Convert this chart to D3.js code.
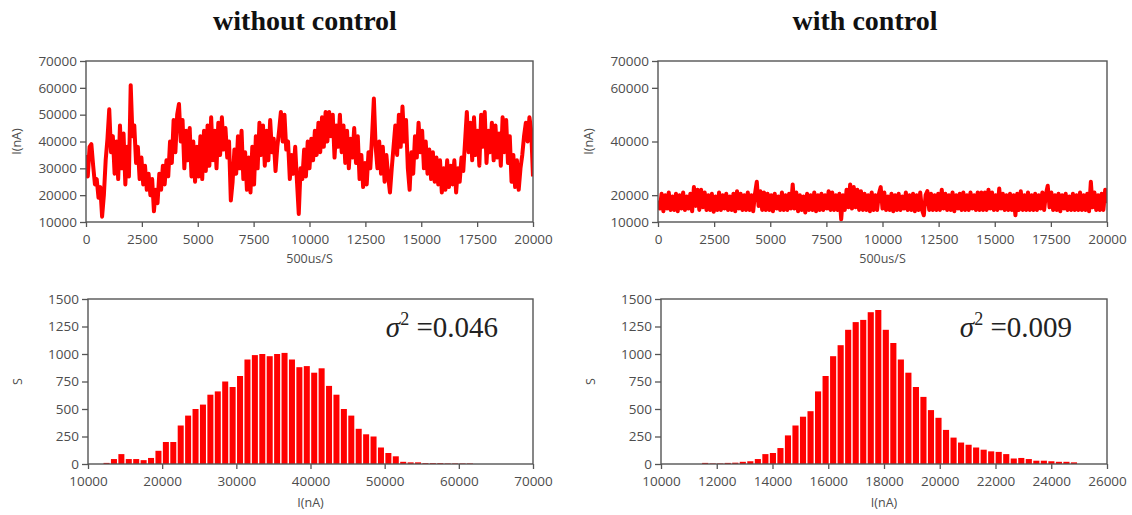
<!DOCTYPE html>
<html><head><meta charset="utf-8">
<script src="https://cdn.jsdelivr.net/npm/d3@7"></script>
<style>body{margin:0;background:#fff}</style>
</head><body><svg id="c" width="1132" height="515"></svg>
<script>
// ---------- data ----------
const panelTitles = ["without control", "with control"];
const sigmaLabels = ["0.046", "0.009"];
const timeStep = 80; // samples are plotted every 80 units on the 500us/S axis

const seriesWithout = [
35000,27000,38000,39000,31000,24000,26000,19000,23000,12000,
20000,33000,41000,52000,36000,42000,28000,40000,26000,46000,
30000,43000,24000,38000,27000,61000,42000,46000,32000,38000,
26000,34000,24000,31000,22000,28000,20000,26000,14000,22000,
17000,28000,22000,31000,24000,33000,27000,40000,32000,48000,
36000,50000,54000,40000,48000,30000,44000,33000,45000,27000,
40000,25000,38000,27000,42000,26000,44000,29000,46000,31000,
49000,33000,44000,30000,47000,35000,49000,37000,45000,34000,
40000,18000,25000,37000,28000,42000,30000,44000,26000,36000,
22000,34000,21000,38000,24000,42000,30000,47000,35000,46000,
31000,44000,33000,48000,36000,41000,29000,38000,44000,51000,
40000,50000,37000,40000,26000,35000,28000,38000,25000,13000,
30000,26000,37000,27000,40000,30000,41000,33000,44000,35000,
47000,36000,49000,38000,51000,40000,51000,42000,50000,34000,
46000,38000,50000,36000,46000,32000,44000,30000,41000,34000,
45000,32000,42000,26000,35000,23000,32000,24000,36000,30000,
42000,56000,38000,30000,40000,28000,38000,25000,35000,27000,
21000,30000,38000,46000,35000,50000,38000,53000,40000,48000,
30000,22000,36000,28000,42000,34000,47000,36000,44000,30000,
40000,28000,37000,26000,36000,25000,34000,24000,33000,21000,
30000,22000,33000,23000,31000,24000,33000,21000,30000,25000,
34000,29000,40000,51000,36000,47000,33000,49000,35000,44000,
31000,50000,38000,51000,32000,44000,36000,47000,33000,46000,
34000,43000,31000,49000,36000,48000,32000,42000,25000,35000,
23000,33000,22000,30000,35000,42000,47000,40000,49000,44000,
27000];

const seriesWith = [
18000,15000,20500,14000,20000,15000,21000,14500,19500,14500,
20500,14000,20000,15000,21000,14500,19500,15000,20500,14000,
23000,16000,22000,14500,22000,15500,21000,14500,20000,14500,
20500,13800,19500,14500,21000,14500,20000,15000,20500,14500,
19500,14500,20500,14000,21500,15000,20500,14500,20000,14500,
21000,14500,20000,14000,20500,25000,16000,21500,14500,21000,
14500,20500,14500,20000,14000,20500,15000,19500,14500,21000,
14500,20000,14500,20500,15000,24000,15000,21000,14000,20000,
14500,19500,13500,20500,14500,20000,14500,21000,14000,20000,
14500,20500,14500,20000,15000,21500,14500,21000,14500,20000,
14500,20500,11000,20000,14500,22000,15500,24000,15000,23000,
15500,22000,14500,21500,14500,20500,14500,20000,14000,21000,
14500,20000,14500,20500,23000,15000,21000,14500,19500,14500,
20500,14000,20000,14500,20500,14500,19500,15000,21000,14500,
20000,14500,20500,14000,20000,14500,21000,14500,12500,20000,
21500,14500,20500,14500,20000,14500,20500,14500,22000,15000,
20500,14500,20000,14500,21000,14000,20000,15000,20500,14500,
21000,14500,20000,14500,21000,15000,20000,14500,21000,14500,
21000,14500,21000,14500,22000,15000,21000,14500,20000,14500,
22500,15000,20500,14500,20000,14500,20500,14500,20000,12500,
20500,14500,21500,14500,20000,14500,21000,14500,20000,14500,
20500,14500,20000,15000,21000,14500,20500,23500,15500,21000,
14500,20000,14500,20500,14000,20000,15000,20500,14500,19500,
14500,20500,14500,20000,14500,21000,14500,20000,14500,20500,
14000,25000,15500,21000,14500,20000,14500,20500,14500,22000,
17000];

const histWithoutStart = 12000, histWithoutBin = 1000;
const histWithout = [
10,45,90,45,45,35,55,120,200,200,
350,440,500,540,630,660,750,700,800,950,
990,1000,980,1000,1010,950,880,890,830,870,
710,630,500,440,320,270,250,150,100,70,
20,15,15,8,8,8,5,5,5,5];

const histWithStart = 11450, histWithBin = 270;
const histWith = [
10,5,5,10,12,20,25,45,
90,100,145,260,350,430,480,660,800,980,1080,
1220,1290,1310,1380,1400,
1220,1100,950,830,700,610,490,420,310,240,
195,175,150,130,115,110,90,50,55,45,
30,30,25,20,20,15];

const ticksTimeX = [0,2500,5000,7500,10000,12500,15000,17500,20000];
const ticksTopLeftY = [10000,20000,30000,40000,50000,60000,70000];
const ticksTopRightY = [10000,20000,40000,60000,70000];
const ticksCountY = [0,250,500,750,1000,1250,1500];
const ticksHistLeftX = [10000,20000,30000,40000,50000,60000,70000];
const ticksHistRightX = [10000,12000,14000,16000,18000,20000,22000,24000,26000];

// ---------- drawing ----------
const svg = d3.select("#c");
const RED = "#ff0000", AX = "#555", TXT = "#4d4d4d";
const tickFont = "'Open Sans', 'Noto Sans', sans-serif";

function frame(g, x0, x1, y0, y1) {
  g.append("rect").attr("x", x0).attr("y", y0).attr("width", x1 - x0).attr("height", y1 - y0)
    .attr("fill", "none").attr("stroke", AX).attr("stroke-width", 1.4);
}

function axes(g, x, y, xt, yt, x0, y1) {
  const ax = g.append("g").attr("transform", `translate(0,${y1})`)
    .call(d3.axisBottom(x).tickValues(xt).tickFormat(d3.format("d")).tickSize(5).tickSizeOuter(0).tickPadding(7));
  const ay = g.append("g").attr("transform", `translate(${x0},0)`)
    .call(d3.axisLeft(y).tickValues(yt).tickFormat(d3.format("d")).tickSize(6).tickSizeOuter(0).tickPadding(3));
  [ax, ay].forEach(a => {
    a.select(".domain").remove();
    a.selectAll("line").attr("stroke", AX).attr("stroke-width", 1.3);
    a.selectAll("text").attr("fill", TXT).style("font-family", tickFont).style("font-size", "13.5px");
  });
}

function axisTitles(g, xLabel, yLabel, cx, xly, ylx, cy) {
  g.append("text").attr("x", cx).attr("y", xly).attr("text-anchor", "middle")
    .attr("fill", TXT).style("font-family", tickFont).style("font-size", "12.5px").text(xLabel);
  g.append("text").attr("transform", `translate(${ylx},${cy}) rotate(-90)`).attr("text-anchor", "middle")
    .attr("fill", TXT).style("font-family", tickFont).style("font-size", "12.5px").text(yLabel);
}

function timePanel(data, box, yt) {
  const g = svg.append("g");
  const x = d3.scaleLinear().domain([0, 20000]).range([box.x0, box.x1]);
  const y = d3.scaleLinear().domain([10000, 70000]).range([box.y1, box.y0]);
  g.append("defs").append("clipPath").attr("id", "clip" + box.x0)
    .append("rect").attr("x", box.x0).attr("y", box.y0).attr("width", box.x1 - box.x0).attr("height", box.y1 - box.y0);
  g.append("path").datum(data).attr("clip-path", `url(#clip${box.x0})`)
    .attr("d", d3.line().x((d, i) => x(i * timeStep)).y(d => y(d)))
    .attr("fill", "none").attr("stroke", RED).attr("stroke-width", 4).attr("stroke-linejoin", "round");
  frame(g, box.x0, box.x1, box.y0, box.y1);
  axes(g, x, y, ticksTimeX, yt, box.x0, box.y1);
  axisTitles(g, "500us/S", "I(nA)", (box.x0 + box.x1) / 2, box.y1 + 41, box.x0 - 65, (box.y0 + box.y1) / 2);
}

function histPanel(data, start, bin, box, xDomain, xt, sigma) {
  const g = svg.append("g");
  const x = d3.scaleLinear().domain(xDomain).range([box.x0, box.x1]);
  const y = d3.scaleLinear().domain([0, 1500]).range([box.y1, box.y0]);
  g.selectAll("rect.bar").data(data).join("rect").attr("class", "bar")
    .attr("x", (d, i) => x(start + i * bin) + 0.7)
    .attr("width", (d, i) => x(start + (i + 1) * bin) - x(start + i * bin) - 1.4)
    .attr("y", d => y(d)).attr("height", d => y(0) - y(d))
    .attr("fill", RED);
  frame(g, box.x0, box.x1, box.y0, box.y1);
  axes(g, x, y, xt, ticksCountY, box.x0, box.y1);
  axisTitles(g, "I(nA)", "S", (box.x0 + box.x1) / 2, box.y1 + 43, box.x0 - 66, (box.y0 + box.y1) / 2);
  const t = g.append("text").attr("x", box.x1 - 35).attr("y", box.y0 + 38).attr("text-anchor", "end")
    .attr("fill", "#222").style("font-family", "'Liberation Serif', 'DejaVu Serif', serif").style("font-size", "29px");
  t.append("tspan").style("font-style", "italic").text("σ");
  t.append("tspan").attr("dy", -12).style("font-size", "18px").text("2");
  t.append("tspan").attr("dy", 12).text(" =" + sigma);
}

timePanel(seriesWithout, {x0: 86, x1: 533, y0: 61, y1: 222}, ticksTopLeftY);
timePanel(seriesWith, {x0: 658, x1: 1107, y0: 61, y1: 222}, ticksTopRightY);
histPanel(histWithout, histWithoutStart, histWithoutBin, {x0: 88, x1: 533, y0: 299, y1: 464}, [10000, 70000], ticksHistLeftX, sigmaLabels[0]);
histPanel(histWith, histWithStart, histWithBin, {x0: 661, x1: 1107, y0: 299, y1: 464}, [10000, 26000], ticksHistRightX, sigmaLabels[1]);

[[305, panelTitles[0]], [865, panelTitles[1]]].forEach(([cx, t]) => {
  svg.append("text").attr("x", cx).attr("y", 30).attr("text-anchor", "middle")
    .style("font-family", "'Liberation Serif', 'Times New Roman', serif").style("font-weight", "bold")
    .style("font-size", "28px").attr("fill", "#111").text(t);
});
</script></body></html>
